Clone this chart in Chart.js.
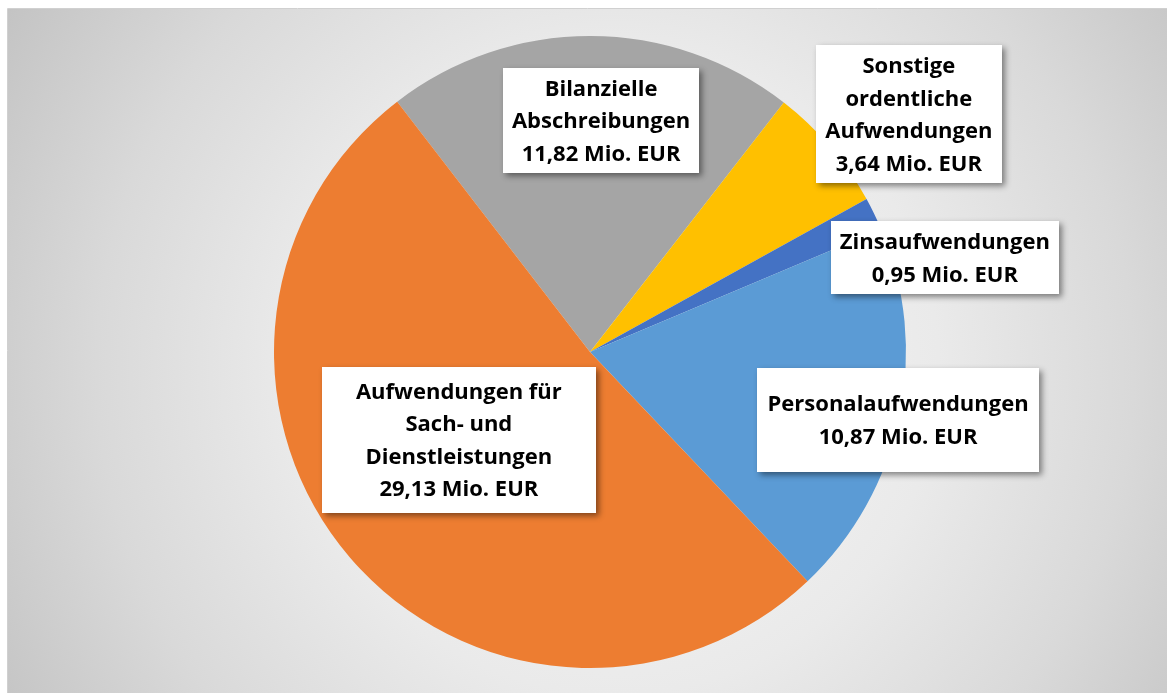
<!DOCTYPE html>
<html>
<head>
<meta charset="utf-8">
<script src="https://cdn.jsdelivr.net/npm/chart.js@4/dist/chart.umd.min.js"></script>
<style>
  html, body { margin: 0; padding: 0; background: #fff; }
  #wrap { width: 1167px; height: 693px; }
</style>
</head>
<body>
<div id="wrap"><canvas id="myPieChart" width="1167" height="693"></canvas></div>
<script>
// Aufwendungen in Mio. EUR
var labels = ["Bilanzielle Abschreibungen", "Sonstige ordentliche Aufwendungen", "Zinsaufwendungen", "Personalaufwendungen", "Aufwendungen für Sach- und Dienstleistungen"];
var values = [11.82, 3.64, 0.95, 10.87, 29.13];
var valueTexts = ["11,82 Mio. EUR", "3,64 Mio. EUR", "0,95 Mio. EUR", "10,87 Mio. EUR", "29,13 Mio. EUR"];
var labelLines = [
  ["Bilanzielle", "Abschreibungen"],
  ["Sonstige", "ordentliche", "Aufwendungen"],
  ["Zinsaufwendungen"],
  ["Personalaufwendungen"],
  ["Aufwendungen für", "Sach- und", "Dienstleistungen"]
];
var colors = ["#A5A5A5", "#FFC000", "#4472C4", "#5B9BD5", "#ED7D31"];

// label boxes: center offset (in radius units) and box size in px
var boxes = [
  { dx: 0.035, dy: -0.733, w: 196, h: 105 },
  { dx: 1.009, dy: -0.753, w: 186, h: 138 },
  { dx: 1.123, dy: -0.299, w: 228, h: 73 },
  { dx: 0.975, dy: 0.215, w: 282, h: 104 },
  { dx: -0.415, dy: 0.278, w: 274, h: 146 }
];

var bgPlugin = {
  id: "bg",
  beforeDraw: function(chart) {
    var c = chart.ctx;
    c.save();
    c.fillStyle = "#ffffff";
    c.fillRect(0, 0, chart.width, chart.height);
    var g = c.createRadialGradient(615, 370, 0, 615, 370, 720);
    g.addColorStop(0, "#f9f9f9");
    g.addColorStop(0.45, "#eaeaea");
    g.addColorStop(0.72, "#d9d9d9");
    g.addColorStop(1, "#c2c2c2");
    c.fillStyle = g;
    c.fillRect(8, 9, chart.width - 8, chart.height - 9);
    c.strokeStyle = "#d0d0d0";
    c.lineWidth = 1;
    c.beginPath();
    c.moveTo(7.5, chart.height);
    c.lineTo(7.5, 8.5);
    c.lineTo(chart.width, 8.5);
    c.stroke();
    c.restore();
  }
};

var labelPlugin = {
  id: "boxLabels",
  afterDatasetsDraw: function(chart) {
    var c = chart.ctx;
    var arc = chart.getDatasetMeta(0).data[0];
    var cx = arc.x, cy = arc.y, r = arc.outerRadius;
    c.save();
    for (var i = 0; i < boxes.length; i++) {
      var b = boxes[i];
      var bx = cx + b.dx * r, by = cy + b.dy * r;
      c.save();
      c.shadowColor = "rgba(0,0,0,0.45)";
      c.shadowBlur = 6;
      c.shadowOffsetX = 3;
      c.shadowOffsetY = 3;
      c.fillStyle = "#ffffff";
      c.fillRect(Math.round(bx - b.w / 2), Math.round(by - b.h / 2), b.w, b.h);
      c.restore();

      var lines = labelLines[i].concat([valueTexts[i]]);
      var lh = 32.5;
      c.fillStyle = "#000000";
      c.font = "bold 22px 'Open Sans'";
      c.textAlign = "center";
      c.textBaseline = "middle";
      var top = by - (lines.length - 1) * lh / 2 + 1.5;
      for (var j = 0; j < lines.length; j++) {
        c.fillText(lines[j], bx, top + j * lh);
      }
    }
    c.restore();
  }
};

var ctx = document.getElementById("myPieChart");
var chart = new Chart(ctx, {
  type: "pie",
  data: {
    labels: labels,
    datasets: [{
      data: values,
      backgroundColor: colors,
      borderColor: colors,
      borderWidth: 0
    }]
  },
  options: {
    responsive: false,
    animation: false,
    rotation: -37.6,
    layout: { padding: { top: 36, bottom: 25, left: 274, right: 261 } },
    plugins: {
      legend: { display: false },
      tooltip: { enabled: false }
    }
  },
  plugins: [bgPlugin, labelPlugin]
});
</script>
</body>
</html>
